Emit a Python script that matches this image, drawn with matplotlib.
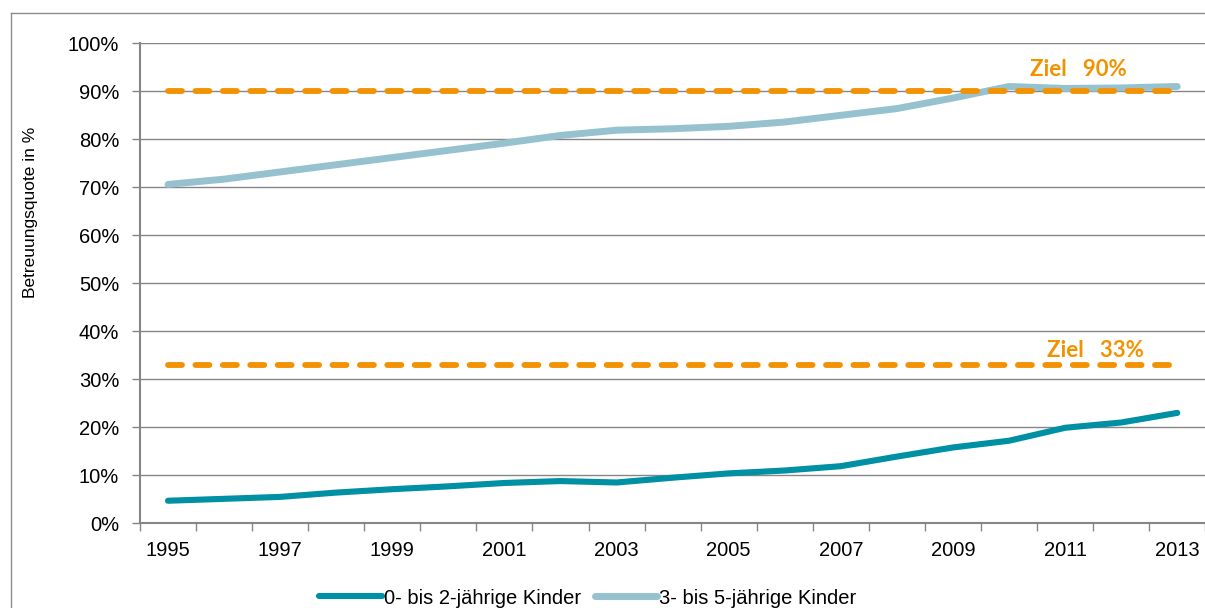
import matplotlib
matplotlib.use("Agg")
import matplotlib.pyplot as plt
from matplotlib.lines import Line2D

# Betreuungsquoten (in %) nach Altersgruppe
years = list(range(1995, 2014))
quote_0_2 = [4.7, 5.1, 5.5, 6.4, 7.1, 7.7, 8.4, 8.8, 8.5, 9.5,
             10.4, 11.0, 11.9, 13.9, 15.8, 17.2, 19.9, 21.0, 23.0]
quote_3_5 = [70.6, 71.7, 73.2, 74.7, 76.2, 77.7, 79.2, 80.8, 81.9, 82.2,
             82.7, 83.6, 85.0, 86.4, 88.6, 91.0, 90.6, 90.7, 91.0]
ziel_3_5 = 90
ziel_0_2 = 33
series_labels = ["0- bis 2-jährige Kinder", "3- bis 5-jährige Kinder"]
ziel_labels = ["Ziel   90%", "Ziel   33%"]
ylabel = "Betreuungsquote in %"
yticks = list(range(0, 101, 10))

W, H = 1205, 608
plt.rcParams["font.family"] = ["Liberation Sans", "DejaVu Sans"]
fig = plt.figure(figsize=(W / 100, H / 100), dpi=100)

# outer chart frame (left and top edges)
FRAME = "#8c8c8c"
fig.add_artist(Line2D([11 / W, 11 / W], [0, (H - 13) / H], color=FRAME,
                      lw=1.0, transform=fig.transFigure))
fig.add_artist(Line2D([11 / W, 1], [(H - 13) / H, (H - 13) / H], color=FRAME,
                      lw=1.0, transform=fig.transFigure))

ax = fig.add_axes([140 / W, (H - 523.3) / H, 1065.3 / W, 480 / H])

GRID = "#868686"
TEAL = "#0090A3"
LIGHT = "#96C2CF"
ORANGE = "#F39200"

x = list(range(len(years)))

ax.set_ylim(0, 100)
ax.set_xlim(-0.5, len(years) - 0.5)
ax.set_yticks(yticks)
ax.set_yticklabels([f"{v}%" for v in yticks])
ax.yaxis.grid(True, color=GRID, lw=1.0)
ax.set_axisbelow(True)

# category ticks between years, labels on every second year
ax.set_xticks(x[::2])
ax.set_xticklabels([str(y) for y in years[::2]])
ax.set_xticks([i - 0.5 for i in range(len(years) + 1)], minor=True)
ax.tick_params(axis="x", which="major", length=0, pad=13, labelsize=14.5)
ax.tick_params(axis="x", which="minor", length=6, width=1.0, color=GRID)
ax.tick_params(axis="y", length=6, width=1.0, color=GRID, pad=9, labelsize=14.5)

for side in ("top", "right"):
    ax.spines[side].set_visible(False)
for side in ("left", "bottom"):
    ax.spines[side].set_color(GRID)
    ax.spines[side].set_linewidth(1.5)

# target lines
for val in (ziel_3_5, ziel_0_2):
    ax.plot(x, [val] * len(x), color=ORANGE, lw=4.2,
            dashes=(2.4, 2.3), dash_capstyle="round", zorder=3)

ax.plot(x, quote_0_2, color=TEAL, lw=4.4, solid_capstyle="round",
        solid_joinstyle="round", label=series_labels[0], zorder=2)
ax.plot(x, quote_3_5, color=LIGHT, lw=5.0, solid_capstyle="round",
        solid_joinstyle="round", label=series_labels[1], zorder=2)

ax.text(15.375, 94.6, ziel_labels[0], color=ORANGE, fontsize=16,
        fontweight="bold", family=["Lato", "DejaVu Sans"], ha="left", va="center")
ax.text(15.68, 36.1, ziel_labels[1], color=ORANGE, fontsize=16,
        fontweight="bold", family=["Lato", "DejaVu Sans"], ha="left", va="center")

ax.set_ylabel(ylabel, fontsize=12.5)
ax.yaxis.set_label_coords(-102 / 1065.3, 0.6485)

handles, labels = ax.get_legend_handles_labels()
fig.legend(handles, labels, loc="center", bbox_to_anchor=(588 / W, (H - 598) / H),
           ncol=2, frameon=False, fontsize=14.5, handlelength=3.1,
           handletextpad=0.1, columnspacing=0.7, borderpad=0, borderaxespad=0)

fig.savefig("out.png", dpi=100)
